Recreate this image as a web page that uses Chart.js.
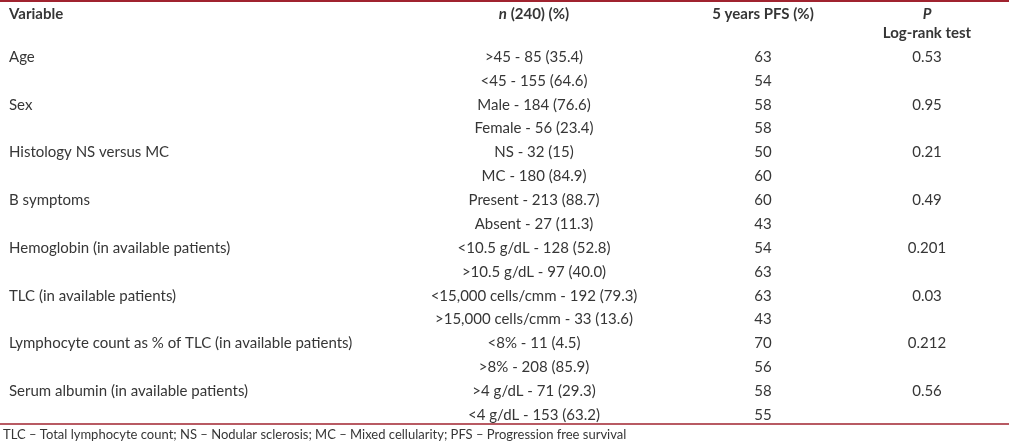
<!DOCTYPE html>
<html lang="en">
<head>
  <meta charset="UTF-8">
  <title>PFS by variable</title>
  <script src="https://cdn.jsdelivr.net/npm/chart.js"></script>
  <style>
    body {
      margin: 0;
      background: #ffffff;
    }
    canvas {
      display: block;
    }
  </style>
</head>
<body>

  <canvas id="pfsTable" width="1009" height="444"></canvas>

  <script>
    // table content
    const variables = [
      'Age',
      'Sex',
      'Histology NS versus MC',
      'B symptoms',
      'Hemoglobin (in available patients)',
      'TLC (in available patients)',
      'Lymphocyte count as % of TLC (in available patients)',
      'Serum albumin (in available patients)'
    ];
    const groups = [
      '>45 - 85 (35.4)', '<45 - 155 (64.6)',
      'Male - 184 (76.6)', 'Female - 56 (23.4)',
      'NS - 32 (15)', 'MC - 180 (84.9)',
      'Present - 213 (88.7)', 'Absent - 27 (11.3)',
      '<10.5 g/dL - 128 (52.8)', '>10.5 g/dL - 97 (40.0)',
      '<15,000 cells/cmm - 192 (79.3)', '>15,000 cells/cmm - 33 (13.6)',
      '<8% - 11 (4.5)', '>8% - 208 (85.9)',
      '>4 g/dL - 71 (29.3)', '<4 g/dL - 153 (63.2)'
    ];
    const pfs = [63, 54, 58, 58, 50, 60, 60, 43, 54, 63, 63, 43, 70, 56, 58, 55];
    const pValues = ['0.53', '0.95', '0.21', '0.49', '0.201', '0.03', '0.212', '0.56'];
    const headers = ['Variable', 'n', ' (240) (%)', '5 years PFS (%)', 'P', 'Log-rank test'];
    const footnote = 'TLC – Total lymphocyte count; NS – Nodular sclerosis; MC – Mixed cellularity; PFS – Progression free survival';

    // layout
    const COL = { variable: 9, n: 534, pfs: 763, p: 927, note: 3 };
    const ROW = { header: -1.8, sub: -1, topRule: -2.35, bottomRule: 15.37, note: 15.84 };
    const TEXT = '#363636';
    const RULE = '#a0232f';
    const FONT = 'Lato, "Open Sans", sans-serif';
    const SIZE = 15;

    const tablePlugin = {
      id: 'tableText',
      afterDatasetsDraw(chart) {
        const { ctx, scales: { x, y } } = chart;
        ctx.save();
        ctx.textBaseline = 'middle';
        ctx.fillStyle = TEXT;

        // rules
        ctx.strokeStyle = RULE;
        ctx.lineWidth = 2;
        ctx.beginPath();
        ctx.moveTo(x.left, y.getPixelForValue(ROW.topRule));
        ctx.lineTo(x.right, y.getPixelForValue(ROW.topRule));
        ctx.stroke();
        ctx.lineWidth = 1.5;
        ctx.beginPath();
        ctx.moveTo(x.left, y.getPixelForValue(ROW.bottomRule));
        ctx.lineTo(x.right, y.getPixelForValue(ROW.bottomRule));
        ctx.stroke();

        // header
        const bold = `bold ${SIZE}px ${FONT}`;
        const boldItalic = `bold italic ${SIZE}px ${FONT}`;
        const hy = y.getPixelForValue(ROW.header);
        ctx.font = bold;
        ctx.textAlign = 'left';
        ctx.fillText(headers[0], x.getPixelForValue(COL.variable), hy);

        ctx.font = boldItalic;
        const nW = ctx.measureText(headers[1]).width;
        ctx.font = bold;
        const restW = ctx.measureText(headers[2]).width;
        const nx = x.getPixelForValue(COL.n) - (nW + restW) / 2;
        ctx.font = boldItalic;
        ctx.fillText(headers[1], nx, hy);
        ctx.font = bold;
        ctx.fillText(headers[2], nx + nW, hy);

        ctx.textAlign = 'center';
        ctx.fillText(headers[3], x.getPixelForValue(COL.pfs), hy);
        ctx.font = boldItalic;
        ctx.fillText(headers[4], x.getPixelForValue(COL.p), hy);
        ctx.font = bold;
        ctx.fillText(headers[5], x.getPixelForValue(COL.p), y.getPixelForValue(ROW.sub));

        // body
        ctx.font = `${SIZE}px ${FONT}`;
        variables.forEach((v, i) => {
          const py = y.getPixelForValue(i * 2);
          ctx.textAlign = 'left';
          ctx.fillText(v, x.getPixelForValue(COL.variable), py);
          ctx.textAlign = 'center';
          ctx.fillText(pValues[i], x.getPixelForValue(COL.p), py);
        });
        groups.forEach((g, i) => {
          const py = y.getPixelForValue(i);
          ctx.textAlign = 'center';
          ctx.fillText(g, x.getPixelForValue(COL.n), py);
        });
        const meta = chart.getDatasetMeta(0);
        meta.data.forEach((pt, i) => {
          ctx.fillText(String(pfs[i]), pt.x, pt.y);
        });

        // footnote
        ctx.font = `13px ${FONT}`;
        ctx.textAlign = 'left';
        ctx.fillText(footnote, x.getPixelForValue(COL.note), y.getPixelForValue(ROW.note));
        ctx.restore();
      }
    };

    const ctx = document.getElementById('pfsTable').getContext('2d');
    new Chart(ctx, {
      type: 'scatter',
      data: {
        datasets: [{
          label: '5 years PFS (%)',
          data: pfs.map((v, i) => ({ x: COL.pfs, y: i })),
          pointRadius: 0,
          pointHoverRadius: 0
        }]
      },
      options: {
        responsive: false,
        animation: false,
        events: [],
        layout: { padding: 0 },
        plugins: {
          legend: { display: false },
          tooltip: { enabled: false }
        },
        scales: {
          x: { type: 'linear', min: 0, max: 1009, display: false },
          y: { type: 'linear', min: -2.388, max: 16.213, reverse: true, display: false }
        }
      },
      plugins: [tablePlugin]
    });
  </script>

</body>
</html>
